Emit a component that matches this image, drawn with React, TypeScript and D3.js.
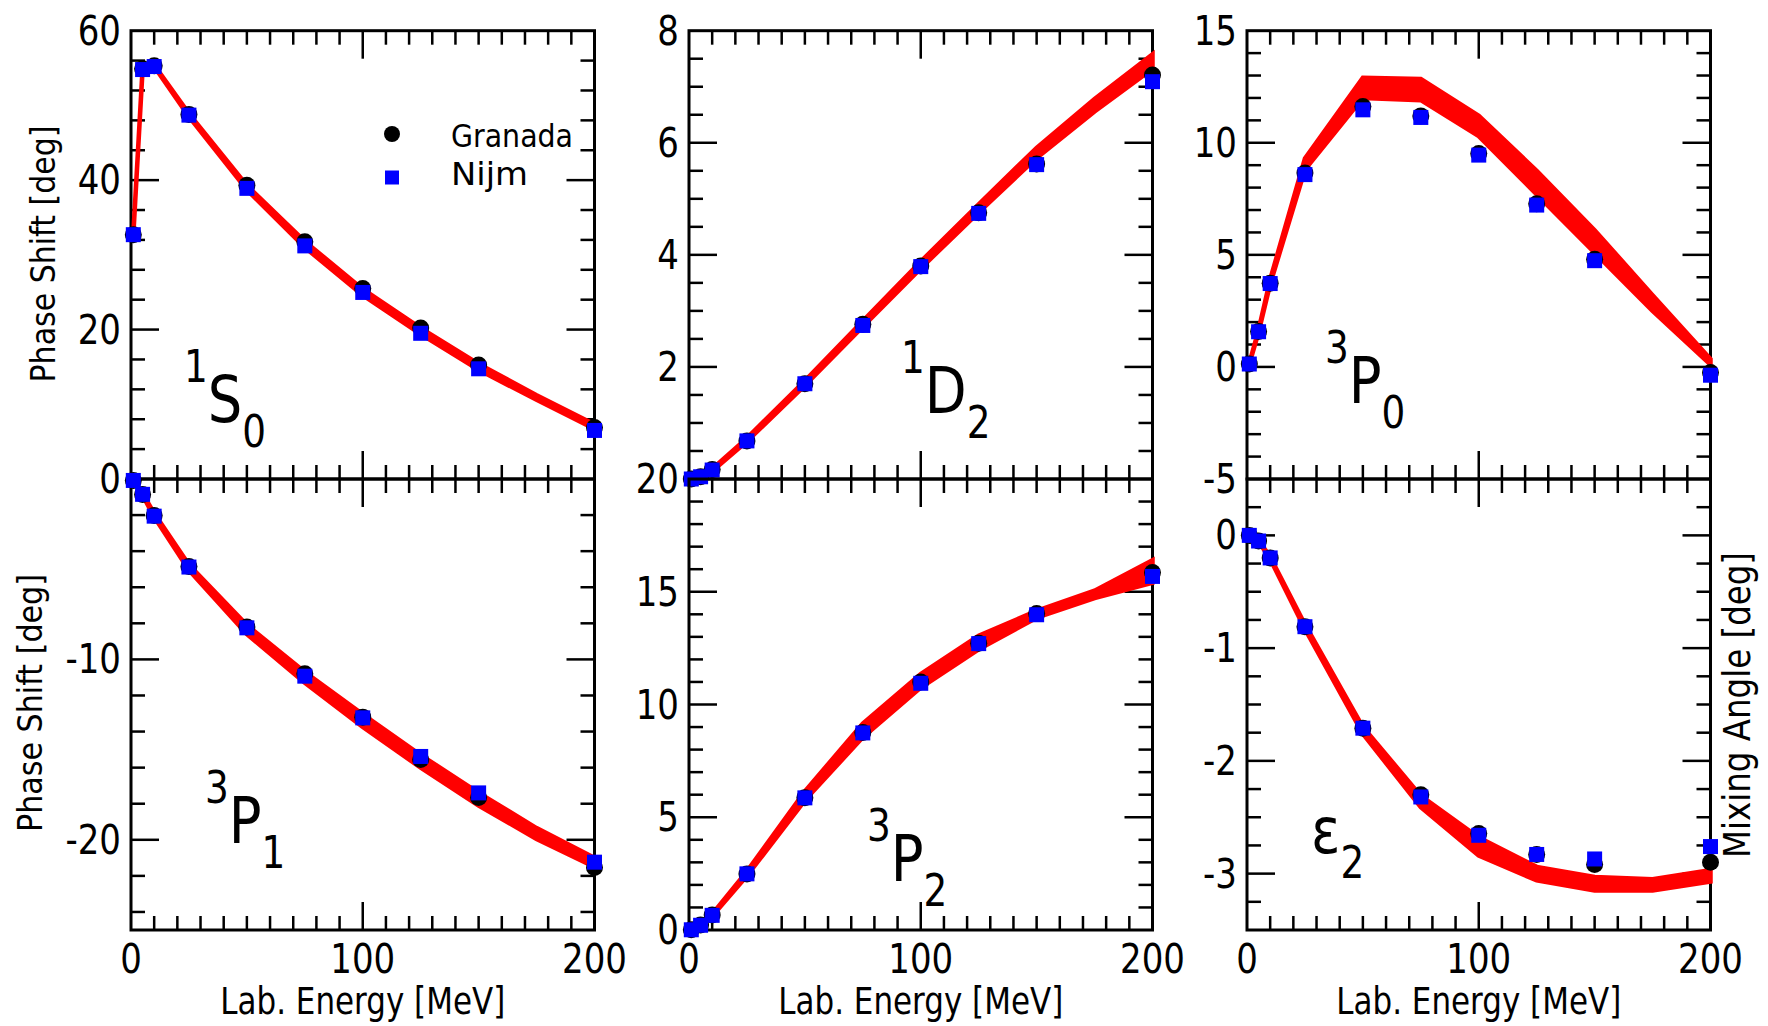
import React from 'react';
import * as d3 from 'd3';

// lab energies of the PWA points and of the red band
const energies = [1, 5, 10, 25, 50, 75, 100, 125, 150, 200];
const bandEnergies = [1, 5, 10, 25, 50, 75, 100, 125, 150, 175, 200];

// 1S0
const s1s0Granada = [32.7, 54.9, 55.3, 48.8, 39.3, 31.75, 25.5, 20.2, 15.25, 6.9];
const s1s0Nijm = [32.7, 54.8, 55.2, 48.7, 38.9, 31.2, 24.97, 19.5, 14.75, 6.5];
const s1s0Lo = [32.6, 54.8, 55.2, 48.5, 38.7, 31.0, 24.6, 19.4, 14.6, 10.6, 6.7];
const s1s0Hi = [32.8, 55.0, 55.4, 48.9, 39.3, 31.8, 25.4, 20.2, 15.4, 11.2, 7.3];

// 3P1
const p3p1Granada = [-0.08, -0.86, -2.02, -4.85, -8.2, -10.8, -13.2, -15.55, -17.66, -21.54];
const p3p1Nijm = [-0.08, -0.85, -2.06, -4.88, -8.25, -10.93, -13.24, -15.38, -17.4, -21.24];
const p3p1Lo = [-0.12, -0.9, -2.1, -5.05, -8.6, -11.3, -13.75, -16.0, -18.1, -19.95, -21.5];
const p3p1Hi = [-0.08, -0.8, -1.9, -4.75, -8.1, -10.7, -13.05, -15.3, -17.4, -19.35, -21.0];

// 1D2
const d1d2Granada = [0.0, 0.04, 0.17, 0.68, 1.7, 2.76, 3.8, 4.75, 5.62, 7.21];
const d1d2Nijm = [0.0, 0.04, 0.16, 0.68, 1.7, 2.74, 3.79, 4.74, 5.61, 7.09];
const d1d2Lo = [0.0, 0.03, 0.14, 0.67, 1.67, 2.72, 3.76, 4.76, 5.73, 6.56, 7.32];
const d1d2Hi = [0.01, 0.05, 0.18, 0.73, 1.75, 2.82, 3.88, 4.9, 5.91, 6.78, 7.58];

// 3P2
const p3p2Granada = [0.01, 0.22, 0.67, 2.48, 5.87, 8.76, 11.0, 12.72, 14.03, 15.85];
const p3p2Nijm = [0.01, 0.21, 0.65, 2.49, 5.86, 8.74, 10.94, 12.7, 13.98, 15.68];
const p3p2Lo = [0.0, 0.2, 0.62, 2.4, 5.75, 8.55, 10.75, 12.45, 13.85, 14.72, 15.4];
const p3p2Hi = [0.02, 0.24, 0.7, 2.6, 6.15, 9.15, 11.35, 13.05, 14.15, 15.05, 16.4];

// 3P0
const p3p0Granada = [0.13, 1.58, 3.73, 8.65, 11.62, 11.2, 9.52, 7.28, 4.8, -0.25];
const p3p0Nijm = [0.13, 1.57, 3.72, 8.58, 11.47, 11.13, 9.45, 7.22, 4.74, -0.37];
const p3p0Lo = [0.12, 1.55, 3.7, 8.8, 12.0, 11.9, 10.3, 7.7, 5.1, 2.5, 0.1];
const p3p0Hi = [0.16, 1.65, 3.9, 9.3, 12.9, 12.85, 11.2, 8.75, 6.1, 3.2, 0.35];

// epsilon 2
const e2Granada = [0.0, -0.05, -0.2, -0.81, -1.71, -2.3, -2.645, -2.83, -2.92, -2.9];
const e2Nijm = [0.0, -0.05, -0.2, -0.81, -1.71, -2.32, -2.66, -2.83, -2.87, -2.76];
const e2Lo = [-0.005, -0.055, -0.21, -0.83, -1.76, -2.41, -2.84, -3.06, -3.15, -3.15, -3.07];
const e2Hi = [0.0, -0.045, -0.19, -0.79, -1.7, -2.31, -2.68, -2.94, -3.03, -3.05, -2.97];

const xTicks = [0, 100, 200];

const FONT = "'DejaVu Sans', 'Liberation Sans', sans-serif";
const SX = 0.85; // condensed look of the original lettering

const colLeft = [131, 689, 1247];
const panelW = 463.5;
const rowTop = [30.7, 479];
const rowBottom = [479, 930];

// skipZero: the bottom label of the top panel sits under the top label of the panel below
const panels = [
  { col: 0, row: 0, domain: [0, 60], major: 20, minor: 4, skipBottom: true, granada: s1s0Granada, nijm: s1s0Nijm, lo: s1s0Lo, hi: s1s0Hi,
    label: { x: 184, y: 422, sup: '1', main: 'S', sub: '0' } },
  { col: 0, row: 1, domain: [-25, 0], major: 10, minor: 2, granada: p3p1Granada, nijm: p3p1Nijm, lo: p3p1Lo, hi: p3p1Hi,
    label: { x: 205, y: 843, sup: '3', main: 'P', sub: '1' } },
  { col: 1, row: 0, domain: [0, 8], major: 2, minor: 0.5, skipBottom: true, granada: d1d2Granada, nijm: d1d2Nijm, lo: d1d2Lo, hi: d1d2Hi,
    label: { x: 901, y: 413, sup: '1', main: 'D', sub: '2' } },
  { col: 1, row: 1, domain: [0, 20], major: 5, minor: 1, granada: p3p2Granada, nijm: p3p2Nijm, lo: p3p2Lo, hi: p3p2Hi,
    label: { x: 867, y: 881, sup: '3', main: 'P', sub: '2' } },
  { col: 2, row: 0, domain: [-5, 15], major: 5, minor: 1, granada: p3p0Granada, nijm: p3p0Nijm, lo: p3p0Lo, hi: p3p0Hi,
    label: { x: 1325, y: 403, sup: '3', main: 'P', sub: '0' } },
  { col: 2, row: 1, domain: [-3.5, 0.5], major: 1, minor: 0.25, granada: e2Granada, nijm: e2Nijm, lo: e2Lo, hi: e2Hi,
    label: { x: 1311, y: 853, sup: '', main: '\u03b5', sub: '2' } },
];

// tick values on multiples of step inside [min, max]
const steps = (min, max, step) => {
  const a = Math.ceil(min / step - 1e-9);
  const b = Math.floor(max / step + 1e-9);
  return d3.range(a, b + 1).map((i) => +(i * step).toFixed(6));
};
const isMajor = (v, major) => Math.abs(v / major - Math.round(v / major)) < 1e-6;

function Panel({ p }) {
  const x0 = colLeft[p.col];
  const x1 = x0 + panelW;
  const y0 = rowTop[p.row];
  const y1 = rowBottom[p.row];
  const x = d3.scaleLinear().domain([0, 200]).range([x0, x1]);
  const y = d3.scaleLinear().domain(p.domain).range([y1, y0]);

  const band = d3.area<number>()
    .x((e) => x(e))
    .y0((_, i) => y(p.lo[i]))
    .y1((_, i) => y(p.hi[i]));

  const yVals = steps(p.domain[0], p.domain[1], p.minor).filter((v) => v > p.domain[0] && v < p.domain[1]);
  const xVals = steps(0, 200, 10).filter((v) => v > 0 && v < 200);
  const yLabels = steps(p.domain[0], p.domain[1], p.major)
    .filter((v) => !(p.skipBottom && v === p.domain[0]));

  return (
    <g>
      {/* ticks */}
      <g stroke="#000" strokeWidth={2.5}>
        {xVals.map((v) => {
          const len = isMajor(v, 100) ? 28 : 14;
          return (
            <g key={'x' + v}>
              <line x1={x(v)} x2={x(v)} y1={y0} y2={y0 + len} />
              <line x1={x(v)} x2={x(v)} y1={y1} y2={y1 - len} />
            </g>
          );
        })}
        {yVals.map((v) => {
          const len = isMajor(v, p.major) ? 28 : 14;
          return (
            <g key={'y' + v}>
              <line x1={x0} x2={x0 + len} y1={y(v)} y2={y(v)} />
              <line x1={x1} x2={x1 - len} y1={y(v)} y2={y(v)} />
            </g>
          );
        })}
      </g>
      <rect x={x0} y={y0} width={panelW} height={y1 - y0} fill="none" stroke="#000" strokeWidth={3} />

      {/* y tick labels */}
      {yLabels.map((v) => (
        <text key={'yl' + v} transform={`translate(${x0 - 10},${y(v) + 14}) scale(${SX},1)`}
          textAnchor="end" fontFamily={FONT} fontSize={40}>{String(v)}</text>
      ))}
      {p.row === 1 && xTicks.map((v) => (
        <text key={'xl' + v} transform={`translate(${x(v)},973) scale(${SX},1)`}
          textAnchor="middle" fontFamily={FONT} fontSize={40}>{v}</text>
      ))}

      {/* band */}
      <path d={band(bandEnergies) || ''} fill="#ff0000" stroke="#ff0000" strokeWidth={4.5} strokeLinejoin="miter" />

      {/* points */}
      {energies.map((e, i) => (
        <circle key={'g' + i} cx={x(e)} cy={y(p.granada[i])} r={8.5} fill="#000" />
      ))}
      {energies.map((e, i) => (
        <rect key={'n' + i} x={x(e) - 7.5} y={y(p.nijm[i]) - 7.5} width={15} height={15} fill="#0000ff" />
      ))}

      {/* wave label */}
      <text transform={`translate(${p.label.x},${p.label.y}) scale(${SX},1)`} fontFamily={FONT}>
        {p.label.sup && <tspan fontSize={44} dy={-40}>{p.label.sup}</tspan>}
        <tspan fontSize={64} dy={p.label.sup ? 40 : 0}>{p.label.main}</tspan>
        <tspan fontSize={44} dy={25}>{p.label.sub}</tspan>
      </text>

      {p.row === 1 && (
        <text x={(x0 + x1) / 2} y={1014} textAnchor="middle" fontFamily={FONT} fontSize={37}
          textLength={285} lengthAdjust="spacingAndGlyphs">Lab. Energy [MeV]</text>
      )}
    </g>
  );
}

export default function App() {
  return (
    <svg width={1768} height={1026} style={{ position: 'absolute', left: 0, top: 0, background: '#fff' }}>
      <rect width={1768} height={1026} fill="#fff" />
      {panels.map((p, i) => <Panel key={i} p={p} />)}

      <text transform="translate(55,254) rotate(-90)" textAnchor="middle" fontFamily={FONT} fontSize={34}
        textLength={257} lengthAdjust="spacingAndGlyphs">Phase Shift [deg]</text>
      <text transform="translate(41.5,703) rotate(-90)" textAnchor="middle" fontFamily={FONT} fontSize={34}
        textLength={258} lengthAdjust="spacingAndGlyphs">Phase Shift [deg]</text>
      <text transform="translate(1750,705) rotate(-90)" textAnchor="middle" fontFamily={FONT} fontSize={37}
        textLength={306} lengthAdjust="spacingAndGlyphs">Mixing Angle [deg]</text>

      {/* legend */}
      <circle cx={392} cy={134} r={8} fill="#000" />
      <text x={451} y={147} fontFamily={FONT} fontSize={32} textLength={122} lengthAdjust="spacingAndGlyphs">Granada</text>
      <rect x={385} y={170.5} width={14} height={14} fill="#0000ff" />
      <text x={451} y={185} fontFamily={FONT} fontSize={32} textLength={77} lengthAdjust="spacingAndGlyphs">Nijm</text>
    </svg>
  );
}
